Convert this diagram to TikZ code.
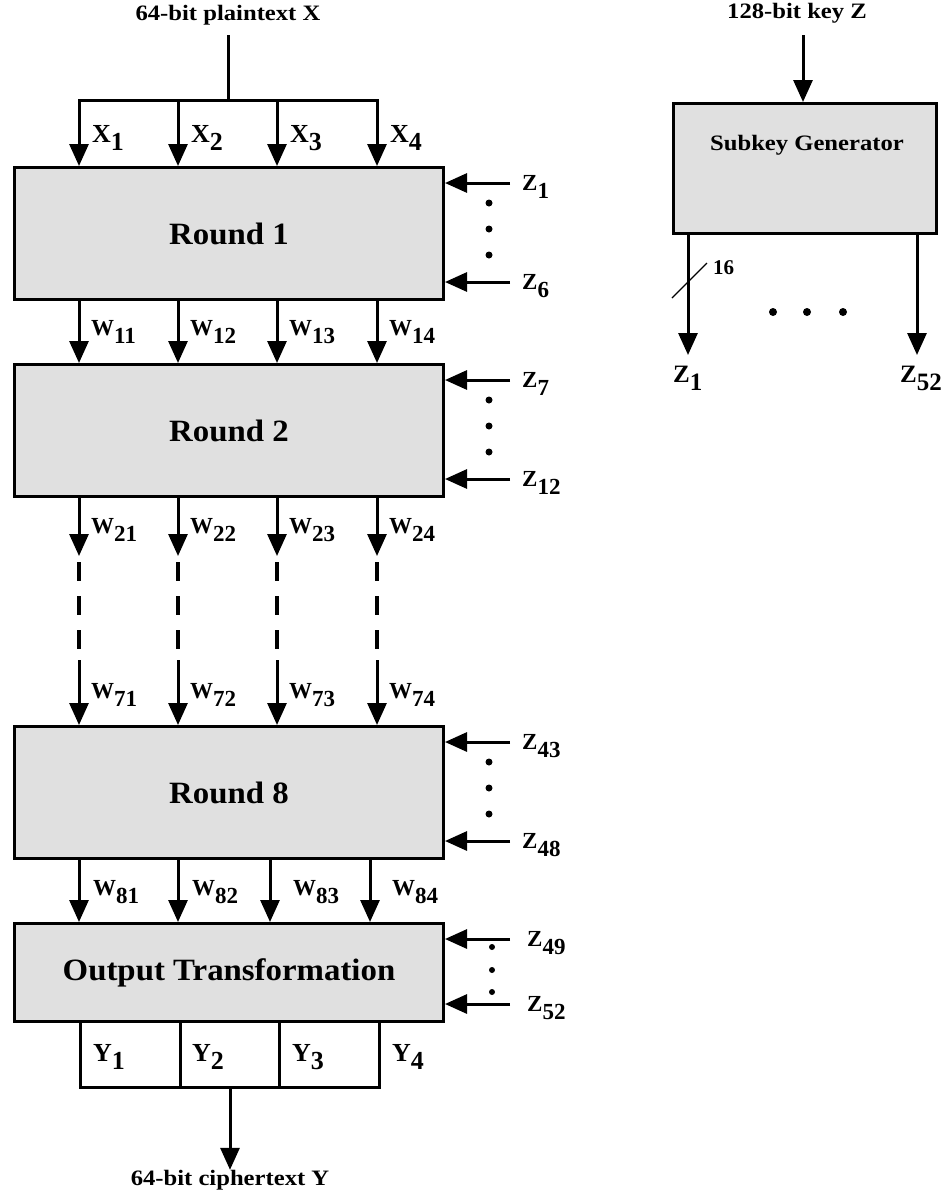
\documentclass[tikz,border=0pt]{standalone}
\usepackage{fontspec}
\setmainfont{Liberation Serif}
\newfontfamily\widefont{Liberation Serif}[FakeStretch=1.12]
\newfontfamily\boxfont{Liberation Serif}[FakeStretch=1.06]
\usetikzlibrary{arrows.meta}
\definecolor{boxgray}{RGB}{224,224,224}
\newcommand\fs[1]{\fontsize{#1}{#1}\selectfont}
\newcommand\sublab[3]{{\fs{#1}#2}\raisebox{-8pt}{\fs{#1}#3}}
\begin{document}
\begin{tikzpicture}[x=1pt,y=-1pt,
  ln/.style={line width=3pt},
  arr/.style={line width=3pt,-{Triangle[length=22pt,width=19pt]}},
  blk/.style={draw,line width=3pt,fill=boxgray,anchor=north west,inner sep=0,font=\boxfont\bfseries\fs{31}},
  ttl/.style={font=\widefont\bfseries\fs{22},inner sep=0},
  lab/.style={font=\bfseries,inner sep=0,anchor=base west},
  dsh/.style={line width=3.5pt,dash pattern=on 19pt off 15pt},
  kdot/.style={fill,circle,inner sep=0,minimum size=7pt}
]
\useasboundingbox (0,0) rectangle (942,1195);
% boxes
\node[blk,minimum width=429pt,minimum height=132pt] (r1) at (13,166) {Round 1};
\node[blk,minimum width=429pt,minimum height=132pt] (r2) at (13,363) {Round 2};
\node[blk,minimum width=429pt,minimum height=132pt] (r8) at (13,725) {Round 8};
\node[blk,minimum width=429pt,minimum height=98pt] (out) at (13,922) {Output Transformation};
\node[blk,minimum width=263pt,minimum height=130pt] (sg) at (672,102) {};
\node[ttl] (sgt) at (807,145) {Subkey Generator};
% plaintext
\node[ttl] (pt) at (228,15) {64-bit plaintext X};
\coordinate (ptin) at (228,35);
\coordinate (bus) at (228,100);
\foreach \x/\i in {79/1,178/2,277/3,377/4}{\coordinate (c\i) at (\x,0);}
\draw[ln] (ptin) -- (bus);
\draw[ln,line cap=rect] (bus -| c1) -- (bus -| c4);
\foreach \x/\i in {79/1,178/2,277/3,377/4}{
  \draw[arr] (bus -| c\i) -- (r1.north -| c\i);
  \node[lab] (xl\i) at (\x+13,142) {\sublab{26}{X}{\i}};
  \draw[arr] (r1.south -| c\i) -- (r2.north -| c\i);
  \node[lab] (w1\i) at (\x+12,335) {\sublab{23}{W}{1\i}};
  \coordinate (w2t\i) at (\x,556);
  \coordinate (d2a\i) at (\x,562);
  \coordinate (d2b\i) at (\x,655);
  \coordinate (w7s\i) at (\x,660);
  \draw[arr] (r2.south -| c\i) -- (w2t\i);
  \draw[dsh] (d2a\i) -- (d2b\i);
  \draw[arr] (w7s\i) -- (r8.north -| c\i);
  \node[lab] (w2\i) at (\x+12,533) {\sublab{23}{W}{2\i}};
  \node[lab] (w7\i) at (\x+12,698) {\sublab{23}{W}{7\i}};
}
% round 8 -> output
\foreach \x/\lx/\i in {79/93/1,178/192/2,270/293/3,370/392/4}{
  \coordinate (e\i) at (\x,0);
  \draw[arr] (r8.south -| e\i) -- (out.north -| e\i);
  \node[lab] (w8\i) at (\lx,895) {\sublab{23}{W}{8\i}};
}
% subkey inputs
\foreach \ya/\yb/\la/\lb/\nm/\bx in {183/282/1/6/a/r1,380/479/7/12/b/r2,742/841/43/48/c/r8}{
  \coordinate (za\nm) at (510,\ya);
  \coordinate (zb\nm) at (510,\yb);
  \draw[arr] (za\nm) -- (za\nm -| \bx.east);
  \draw[arr] (zb\nm) -- (zb\nm -| \bx.east);
  \node[lab] (zla\nm) at (522,\ya+7) {\sublab{23}{Z}{\la}};
  \node[lab] (zlb\nm) at (522,\yb+7) {\sublab{23}{Z}{\lb}};
  \node[kdot] (dt1\nm) at (489,\ya+20) {};
  \node[kdot] (dt2\nm) at (489,\ya+46) {};
  \node[kdot] (dt3\nm) at (489,\ya+72) {};
}
\coordinate (zad) at (510,939);
\coordinate (zbd) at (510,1004);
\draw[arr] (zad) -- (zad -| out.east);
\draw[arr] (zbd) -- (zbd -| out.east);
\node[lab] (zlad) at (527,946) {\sublab{23}{Z}{49}};
\node[lab] (zlbd) at (527,1011) {\sublab{23}{Z}{52}};
\node[kdot,minimum size=6pt] (dt1d) at (492,947) {};
\node[kdot,minimum size=6pt] (dt2d) at (492,970) {};
\node[kdot,minimum size=6pt] (dt3d) at (492,992) {};
% output Y
\coordinate (y0) at (80,1087);
\coordinate (y1) at (180,1087);
\coordinate (y2) at (279,1087);
\coordinate (y3) at (379,1087);
\draw[ln,line join=miter] (out.south -| y0) -- (y0) -- (y3) -- (out.south -| y3);
\draw[ln] (out.south -| y1) -- (y1);
\draw[ln] (out.south -| y2) -- (y2);
\foreach \x/\i in {93/1,192/2,292/3,392/4}{
  \node[lab] (yl\i) at (\x,1061) {\sublab{26}{Y}{\i}};
}
\coordinate (ymid) at (230,1087);
\node[ttl] (ct) at (230,1180) {64-bit ciphertext Y};
\draw[arr] (ymid) -- (ct.north);
% key
\node[ttl] (key) at (797,13) {128-bit key Z};
\coordinate (kin) at (803,35);
\draw[arr] (kin) -- (sg.north -| kin);
\coordinate (ko1) at (688,355);
\coordinate (ko2) at (917,355);
\draw[arr] (sg.south -| ko1) -- (ko1);
\draw[arr] (sg.south -| ko2) -- (ko2);
\coordinate (sl1) at (672,298);
\coordinate (sl2) at (707,263);
\draw[line width=1.3pt] (sl1) -- (sl2);
\node[lab,font=\bfseries\fs{21}] (n16) at (713,274) {16};
\node[lab] (kz1) at (673,382) {\sublab{25}{Z}{1}};
\node[lab] (kz52) at (900,382) {\sublab{25}{Z}{52}};
\node[kdot,minimum size=8pt] (kd1) at (773,312) {};
\node[kdot,minimum size=8pt] (kd2) at (807,312) {};
\node[kdot,minimum size=8pt] (kd3) at (843,312) {};
\end{tikzpicture}
\end{document}
